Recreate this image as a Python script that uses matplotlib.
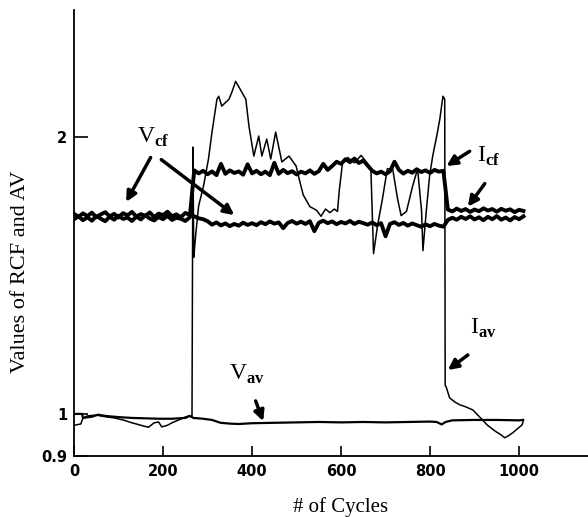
import numpy as np
import matplotlib
matplotlib.use('Agg')
import matplotlib.pyplot as plt
from matplotlib.ticker import NullLocator

plt.rcParams['font.family'] = ['Liberation Serif', 'DejaVu Serif']
plt.rcParams['mathtext.fontset'] = 'custom'
plt.rcParams['mathtext.rm'] = 'Liberation Serif'
plt.rcParams['mathtext.bf'] = 'Liberation Serif:bold'

# crest factor of voltage, sampled every 10 cycles
vcf = [1.650, 1.638, 1.652, 1.641, 1.655, 1.636, 1.648, 1.657, 1.640, 1.650,
       1.635, 1.653, 1.644, 1.658, 1.639, 1.649, 1.642, 1.656, 1.637, 1.651,
       1.645, 1.659, 1.640, 1.648, 1.636, 1.654, 1.646,
       1.640, 1.632, 1.628, 1.620,
       1.606, 1.615, 1.603, 1.611, 1.600, 1.609, 1.602, 1.614, 1.605, 1.612,
       1.604, 1.616, 1.608, 1.619, 1.610, 1.615, 1.592, 1.613, 1.621, 1.610,
       1.618, 1.609, 1.620, 1.580, 1.614, 1.622, 1.612, 1.619, 1.608, 1.617,
       1.611, 1.621, 1.609, 1.618, 1.612, 1.606, 1.615, 1.604, 1.612, 1.560,
       1.609, 1.616, 1.605, 1.613, 1.602, 1.611, 1.604, 1.598, 1.607, 1.600,
       1.609, 1.602, 1.598,
       1.625, 1.634, 1.626, 1.638, 1.629, 1.640, 1.627, 1.636, 1.624, 1.638,
       1.628, 1.641, 1.626, 1.635, 1.623, 1.637, 1.628, 1.640]

# crest factor of current, sampled every 10 cycles
icf = [1.628, 1.640, 1.624, 1.636, 1.622, 1.641, 1.630, 1.620, 1.638, 1.626,
       1.643, 1.629, 1.635, 1.621, 1.639, 1.627, 1.644, 1.631, 1.623, 1.637,
       1.628, 1.642, 1.625, 1.634, 1.630, 1.621, 1.636,
       1.840, 1.826, 1.838, 1.822, 1.835, 1.818, 1.870, 1.824, 1.840, 1.828,
       1.835, 1.820, 1.868, 1.826, 1.838, 1.822, 1.834, 1.818, 1.875, 1.824,
       1.842, 1.827, 1.836, 1.821, 1.834, 1.826, 1.840, 1.824, 1.836, 1.870,
       1.842, 1.860, 1.880, 1.870, 1.892, 1.878, 1.895, 1.874, 1.886, 1.862,
       1.838, 1.826, 1.834, 1.822, 1.836, 1.880, 1.842, 1.825, 1.838, 1.829,
       1.845, 1.832, 1.840, 1.828, 1.842, 1.834, 1.838,
       1.668, 1.660, 1.672, 1.662, 1.670, 1.658, 1.668, 1.661, 1.673, 1.664,
       1.670, 1.659, 1.671, 1.663, 1.669, 1.657, 1.667, 1.662]

iav_x = [0, 15, 20, 30, 50, 70, 90, 110, 130, 150, 167, 180, 190, 197, 210,
         220, 235, 250, 258, 265, 267, 269, 271, 274, 280, 291, 302, 310, 321,
         325, 332, 340, 348, 355, 363, 372, 386, 393, 404, 415, 422, 433, 442,
         453, 467, 483, 499, 506, 515, 530, 545, 555, 565, 575, 585, 592, 596,
         603, 615, 630, 645, 660, 667, 673, 682, 693, 704, 716, 727, 735, 747,
         761, 772, 781, 784, 792, 799, 806, 815, 822, 829, 833, 834, 837, 844,
         856, 867, 880, 896, 907, 918, 928, 946, 958, 968, 978, 986, 998, 1007,
         1010]
iav = [0.972, 0.975, 0.990, 0.995, 0.997, 0.993, 0.990, 0.985, 0.978, 0.972,
       0.967, 0.978, 0.980, 0.968, 0.972, 0.978, 0.985, 0.992, 0.995, 0.995,
       1.950, 1.480, 1.520, 1.578, 1.684, 1.770, 1.893, 2.025, 2.198, 2.215,
       2.161, 2.180, 2.198, 2.240, 2.299, 2.260, 2.198, 2.055, 1.907, 2.005,
       1.907, 1.990, 1.893, 2.025, 1.879, 1.907, 1.860, 1.800, 1.730, 1.680,
       1.665, 1.640, 1.670, 1.655, 1.670, 1.660, 1.750, 1.870, 1.900, 1.875,
       1.910, 1.870, 1.847, 1.494, 1.602, 1.713, 1.847, 1.847, 1.713, 1.643,
       1.660, 1.770, 1.847, 1.660, 1.505, 1.671, 1.815, 1.907, 2.005, 2.092,
       2.215, 2.198, 1.075, 1.067, 1.041, 1.030, 1.023, 1.018, 1.010, 0.9975,
       0.985, 0.973, 0.958, 0.950, 0.942, 0.948, 0.954, 0.965, 0.973, 0.985]

vav_x = [0, 18, 20, 40, 54, 70, 100, 130, 160, 190, 220, 250, 260, 268, 290,
         310, 329, 350, 370, 400, 450, 500, 550, 600, 650, 700, 750, 800, 815,
         826, 835, 850, 900, 950, 1000, 1009]
vav = [1.000, 1.000, 0.990, 0.993, 0.998, 0.995, 0.992, 0.990, 0.989, 0.988,
       0.988, 0.990, 0.995, 0.990, 0.988, 0.985, 0.978, 0.976, 0.975, 0.977,
       0.978, 0.979, 0.980, 0.979, 0.980, 0.979, 0.980, 0.981, 0.980, 0.974,
       0.980, 0.984, 0.985, 0.985, 0.984, 0.985]

cycles_vcf = np.arange(len(vcf)) * 10
cycles_icf = np.arange(len(icf)) * 10

fig = plt.figure(figsize=(5.88, 5.17), dpi=100)
ax = fig.add_axes([0.126, 0.118, 0.874, 0.863])

ax.plot(cycles_vcf, vcf, color='black', lw=2.8)
ax.plot(cycles_icf, icf, color='black', lw=2.8)
ax.plot(iav_x, iav, color='black', lw=1.1)
ax.plot(vav_x, vav, color='black', lw=1.6)

ax.set_yscale('log')
ax.set_xlim(0, 1155)
ax.set_ylim(0.9, 2.75)
ax.yaxis.set_minor_locator(NullLocator())
ax.set_yticks([0.9, 1, 2])
ax.set_yticklabels(['0.9', '1', '2'])
ax.set_xticks([0, 200, 400, 600, 800, 1000])

for s in ['top', 'right']:
    ax.spines[s].set_visible(False)
for s in ['left', 'bottom']:
    ax.spines[s].set_linewidth(1.3)

ax.tick_params(axis='x', direction='in', length=7, width=1.2, pad=6)
ax.tick_params(axis='y', direction='in', length=10, width=1.2, pad=5)
for lab in ax.get_xticklabels() + ax.get_yticklabels():
    lab.set_family('DejaVu Sans')
    lab.set_fontsize(10.5)
    lab.set_fontweight('bold')

ax.set_xlabel('# of Cycles', fontsize=15)
ax.xaxis.label.set_va('center')
ax.xaxis.set_label_coords(0.519, -0.115)
ax.set_ylabel('Values of RCF and AV', fontsize=16)
ax.yaxis.label.set_va('center')
ax.yaxis.set_label_coords(-0.105, 0.413)

arrow = dict(arrowstyle='-|>', color='black', lw=2.5, mutation_scale=15,
             shrinkA=0, shrinkB=0)
ax.text(178, 2.0, r'V$_{\mathbf{cf}}$', fontsize=17, ha='center', va='center')
ax.annotate('', xy=(117, 1.70), xytext=(172, 1.90), arrowprops=arrow)
ax.annotate('', xy=(360, 1.645), xytext=(196, 1.89), arrowprops=arrow)

ax.text(932, 1.905, r'I$_{\mathbf{cf}}$', fontsize=17, ha='center', va='center')
ax.annotate('', xy=(837, 1.86), xytext=(889, 1.93), arrowprops=arrow)
ax.annotate('', xy=(885, 1.68), xytext=(923, 1.78), arrowprops=arrow)

ax.text(919, 1.24, r'I$_{\mathbf{av}}$', fontsize=17, ha='center', va='center')
ax.annotate('', xy=(840, 1.116), xytext=(885, 1.159), arrowprops=arrow)

ax.text(388, 1.105, r'V$_{\mathbf{av}}$', fontsize=17, ha='center', va='center')
ax.annotate('', xy=(425, 0.982), xytext=(408, 1.033), arrowprops=arrow)

fig.savefig('out.png', dpi=100)
